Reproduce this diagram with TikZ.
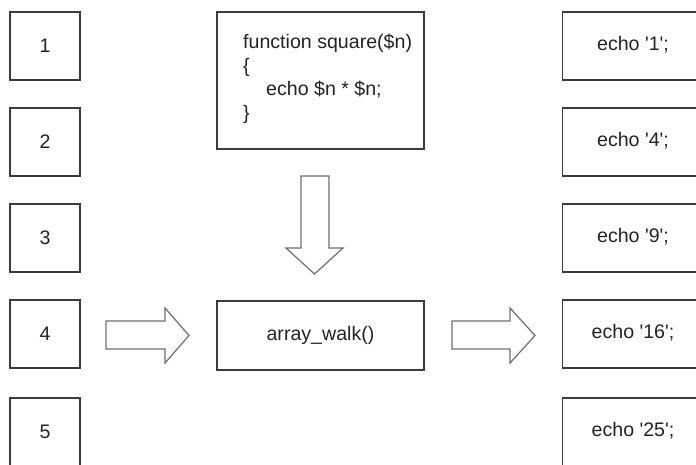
\documentclass[tikz,border=0pt]{standalone}
\usepackage{fontspec}
\setmainfont{Liberation Sans}[Ligatures=TeXOff]
\usetikzlibrary{calc}
\definecolor{boxline}{HTML}{3C3C3C}
\definecolor{arrline}{HTML}{6E6E6E}
\definecolor{txt}{HTML}{222222}
\begin{document}
\begin{tikzpicture}[x=1pt,y=-1pt,
  lbl/.style={font=\fontsize{19.6}{23.5}\selectfont,text=txt},
  box/.style={lbl,draw=boxline,line width=1.4pt,inner sep=0pt},
  numbox/.style={box,minimum width=70pt,minimum height=68pt},
  echobox/.style={box,minimum width=140pt,minimum height=68pt},
  blockarrow/.style={draw=arrline,line width=1.2pt,line join=miter,fill=white}]
\useasboundingbox (0,0) rectangle (696,464);
\clip (0,0) rectangle (696,464);
% left number boxes
\foreach \i/\t/\y in {1/1/46,2/2/142,3/3/238,4/4/334,5/5/432}{
  \node[numbox] (n\i) at (45,\y) {\t};
}
% right echo boxes
\foreach \i/\t/\y in {1/1/46,2/4/142,3/9/238,4/16/334,5/25/432}{
  \node[echobox,anchor=west] (e\i) at (562,\y) {};
  \node[lbl,inner sep=0pt] (et\i) at (633,\y-1) {echo '\t';};
}
% code box
\node[box,minimum width=207pt,minimum height=137pt] (code) at (320.5,80.5) {};
\node[lbl,inner sep=0pt,align=left,anchor=base west] (codetxt) at (243,119)
  {function square(\$n)\\\{\\\hspace*{23pt}echo \$n * \$n;\\\}};
% array_walk box
\node[box,minimum width=207pt,minimum height=69pt] (walk) at (320.5,335.5) {array\_walk()};
% down arrow
\draw[blockarrow] (301,176) -- (329,176) -- (329,248) -- (343,248) -- (314.5,274) -- (286,248) -- (301,248) -- cycle;
% left arrow
\draw[blockarrow] (106,321) -- (165,321) -- (165,308) -- (189,335.5) -- (165,363) -- (165,349) -- (106,349) -- cycle;
% right arrow
\draw[blockarrow] (452,321) -- (510,321) -- (510,308) -- (535,335.5) -- (510,363) -- (510,349) -- (452,349) -- cycle;
\end{tikzpicture}
\end{document}
